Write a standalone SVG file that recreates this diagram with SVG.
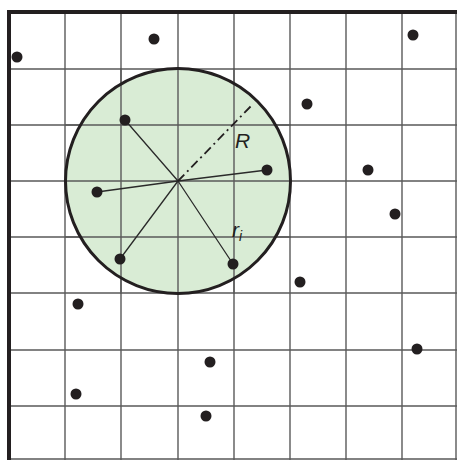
<svg xmlns="http://www.w3.org/2000/svg" width="457" height="460" viewBox="0 0 457 460">
<style>
.grid{stroke:#5a5a5a;stroke-width:1.4;fill:none}
.border{stroke:#231f20;stroke-width:4;fill:none}
.spoke{stroke:#2a2a2a;stroke-width:1.3;fill:none}
.dot{fill:#231f20}
.lbl{font-family:"Liberation Sans",Arial,sans-serif;font-style:italic;fill:#231f20}
</style>
<rect width="457" height="460" fill="#fff"/>
<g id="grid">
<path class="grid" d="M65 12V460M121 12V460M178 12V460M234 12V460M290 12V460M346 12V460M402 12V460M456 12V460M9 69H457M9 125H457M9 181H457M9 237H457M9 293H457M9 350H457M9 406H457M9 459H457"/>
</g>
<g id="circle">
<circle cx="178" cy="181" r="112.5" fill="#d9ecd5"/>
<path class="grid" d="M178 68V294M65 181H291M121 68V294M234 68V294M65 125H291M65 237H291"/>
<circle cx="178" cy="181" r="112.5" fill="none" stroke="#231f20" stroke-width="3"/>
</g>
<g id="border">
<path class="border" d="M9 460V12H457"/>
</g>
<g id="connectors">
<path class="spoke" d="M178 181L125 120M178 181L267 170M178 181L97 192M178 181L120 259M178 181L233 264"/>
<path d="M178 181L253 104" stroke="#231f20" stroke-width="1.8" stroke-dasharray="9,4,2,4" fill="none"/>
</g>
<g id="dots">
<circle class="dot" cx="17" cy="57" r="5.5"/>
<circle class="dot" cx="154" cy="39" r="5.5"/>
<circle class="dot" cx="413" cy="35" r="5.5"/>
<circle class="dot" cx="125" cy="120" r="5.5"/>
<circle class="dot" cx="307" cy="104" r="5.5"/>
<circle class="dot" cx="267" cy="170" r="5.5"/>
<circle class="dot" cx="97" cy="192" r="5.5"/>
<circle class="dot" cx="368" cy="170" r="5.5"/>
<circle class="dot" cx="395" cy="214" r="5.5"/>
<circle class="dot" cx="120" cy="259" r="5.5"/>
<circle class="dot" cx="233" cy="264" r="5.5"/>
<circle class="dot" cx="300" cy="282" r="5.5"/>
<circle class="dot" cx="78" cy="304" r="5.5"/>
<circle class="dot" cx="417" cy="349" r="5.5"/>
<circle class="dot" cx="210" cy="362" r="5.5"/>
<circle class="dot" cx="76" cy="394" r="5.5"/>
<circle class="dot" cx="206" cy="416" r="5.5"/>
</g>
<g id="labels">
<text class="lbl" x="235" y="148" font-size="21">R</text>
<text class="lbl" x="232" y="237" font-size="21">r<tspan font-size="14" dy="4">i</tspan></text>
</g>
</svg>
